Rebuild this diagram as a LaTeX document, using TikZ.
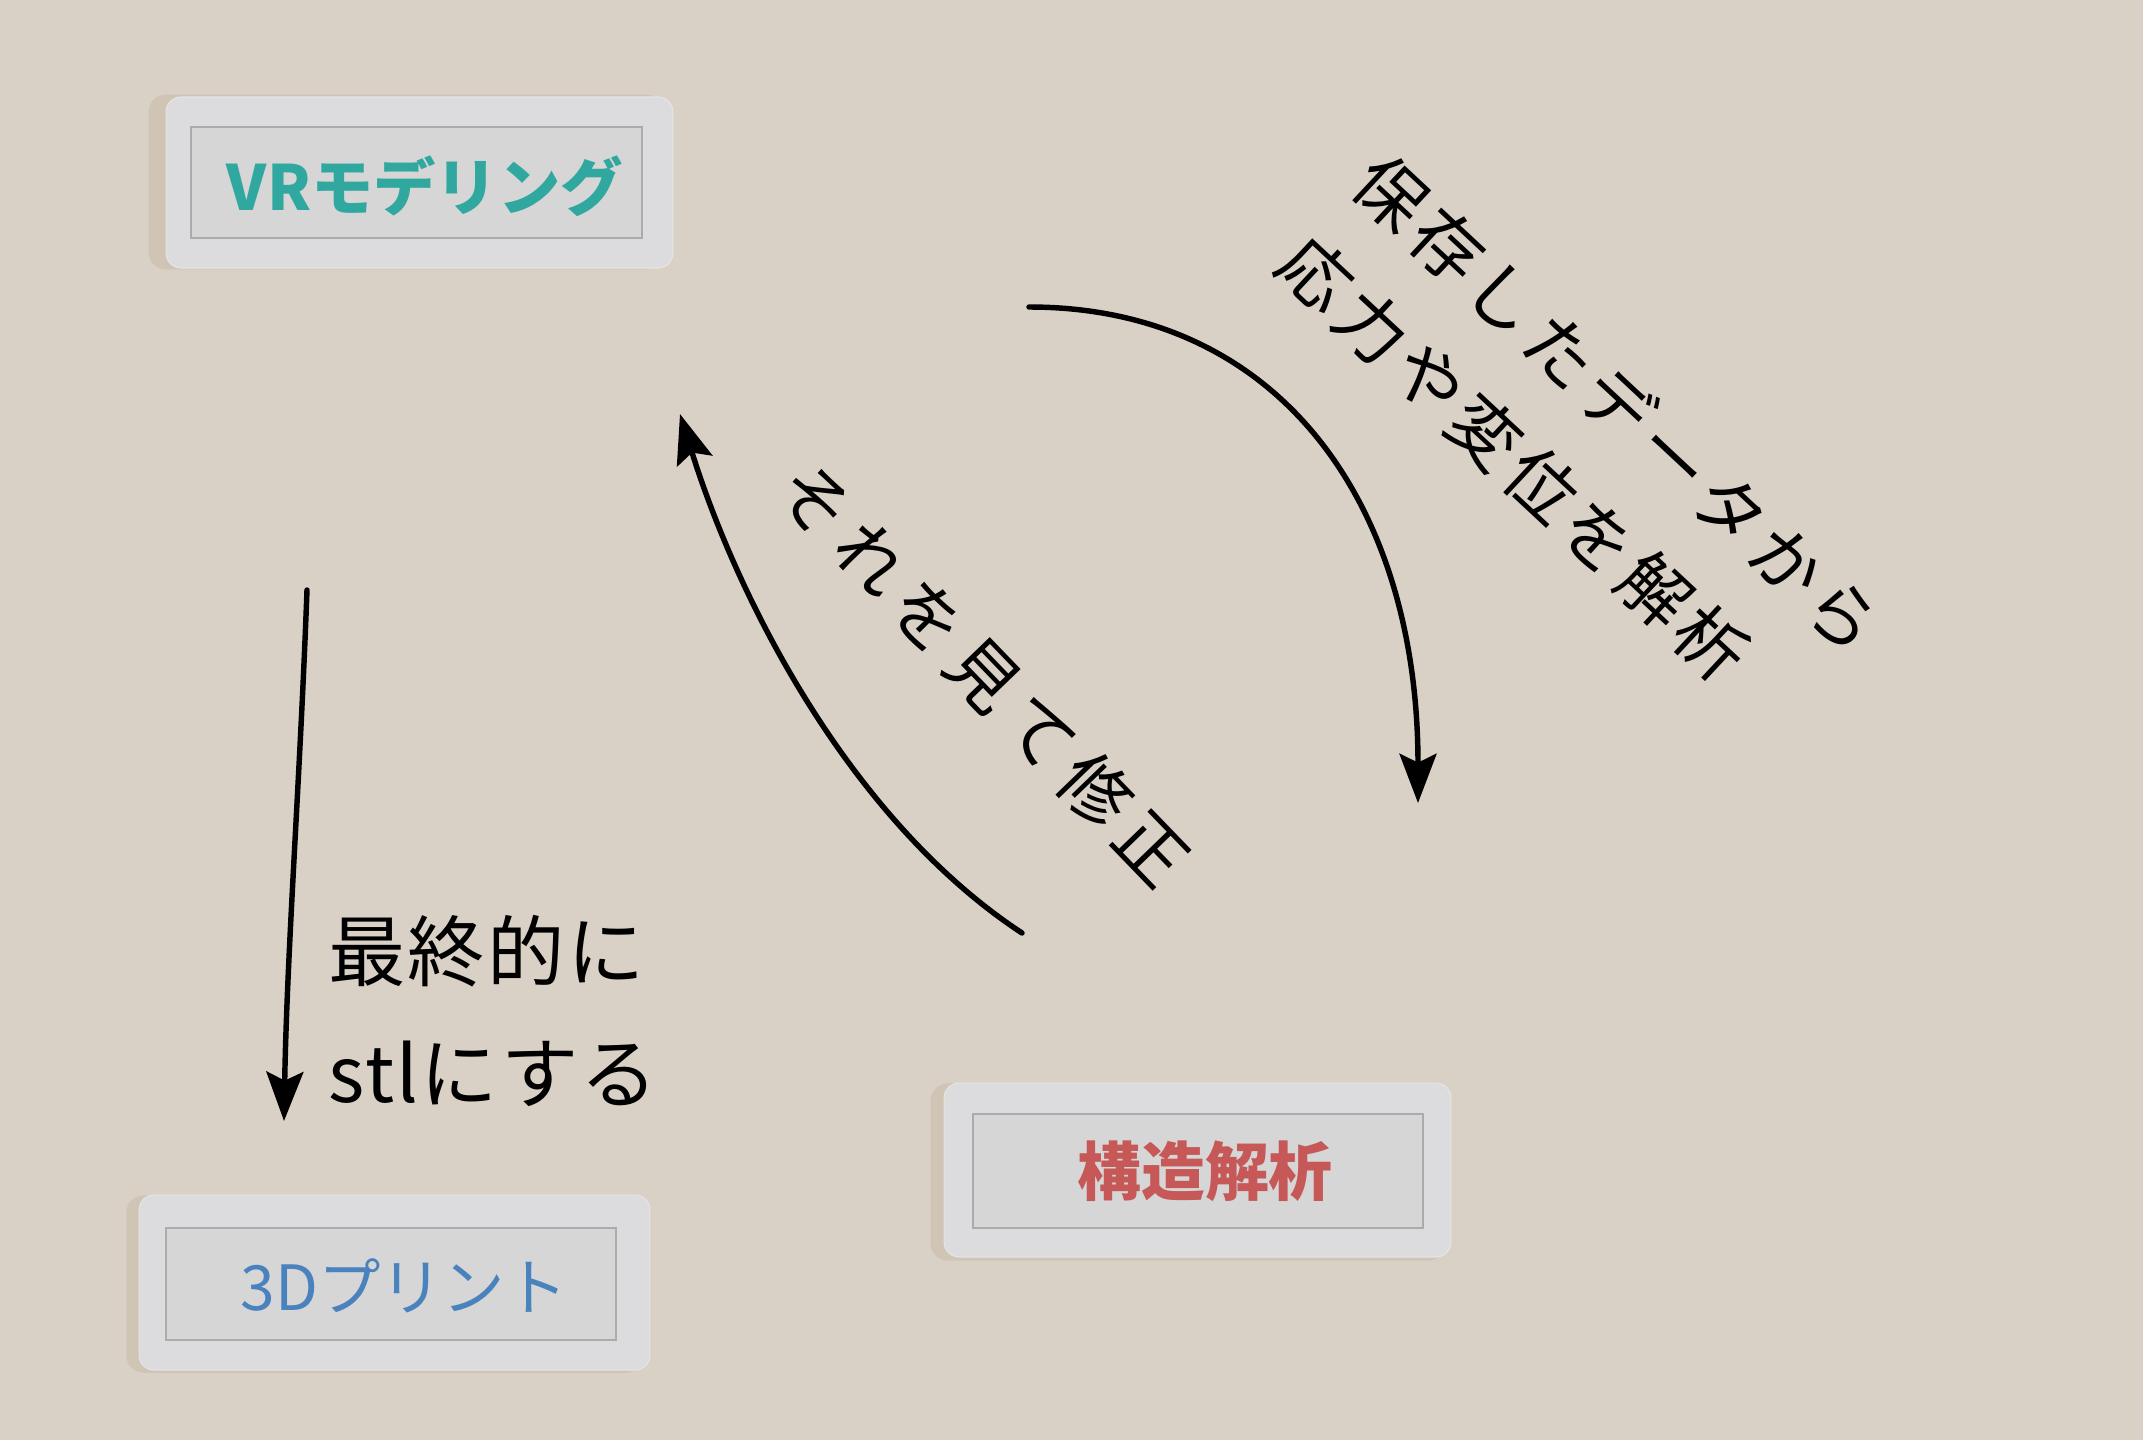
\documentclass[tikz,border=0pt]{standalone}
\usepackage{fontspec}
\newfontfamily\jp{Noto Sans CJK JP}
\newfontfamily\jph[LetterSpace=10]{Noto Sans CJK JP}
\newfontfamily\jpm[LetterSpace=15]{Noto Sans CJK JP}
\newfontfamily\jpl[LetterSpace=3]{Noto Sans CJK JP}
\usetikzlibrary{arrows.meta}
\definecolor{bg}{HTML}{D9D1C6}
\definecolor{shadowc}{HTML}{D0C4B5}
\definecolor{platec}{HTML}{DCDCDE}
\definecolor{panelc}{HTML}{D6D6D7}
\definecolor{panelb}{HTML}{ABABAB}
\definecolor{vrcol}{HTML}{31A89F}
\definecolor{pricol}{HTML}{4A82BE}
\definecolor{ancol}{HTML}{C65858}
\tikzset{
  plate/.style={fill=platec, draw=white!80!gray, line width=0.6pt, rounded corners=0.3cm, inner sep=0pt, outer sep=0pt},
  platesh/.style={fill=shadowc, rounded corners=0.35cm, inner sep=0pt, outer sep=0pt},
  panel/.style={fill=panelc, draw=panelb, line width=1.4pt, inner sep=0pt, outer sep=0pt},
  boxtext/.style={inner sep=0pt, font=\jp\bfseries},
  arr/.style={line width=3.1pt, line cap=round, -{Stealth[length=28pt,width=21pt,inset=5pt]}},
  hand/.style={inner sep=0pt, text=black}
}
\begin{document}
\begin{tikzpicture}[x=0.02cm,y=-0.02cm]
\useasboundingbox (0,0) rectangle (2143,1440);
\fill[bg] (0,0) rectangle (2143,1440);

% VR modeling box
\node[platesh, minimum width=10.3cm, minimum height=3.5cm] (vrs) at (406,182) {};
\node[plate, minimum width=10.14cm, minimum height=3.42cm] (vrp) at (419.5,182.5) {};
\node[panel, minimum width=9.02cm, minimum height=2.22cm] (vri) at (416.5,182.5) {};
\node[boxtext, text=vrcol, font=\jp\bfseries\fontsize{35.5}{38}\selectfont] (vrt) at (425,186) {VRモデリング};

% 3D print box
\node[platesh, minimum width=10.35cm, minimum height=3.55cm] (prs) at (385,1284) {};
\node[plate, minimum width=10.22cm, minimum height=3.5cm] (prp) at (394.5,1282.5) {};
\node[panel, minimum width=9.0cm, minimum height=2.24cm] (pri) at (391,1284) {};
\node[boxtext, text=pricol, font=\jp\fontsize{35.5}{38}\selectfont] (prt) at (404,1286) {3Dプリント};

% structural analysis box
\node[platesh, minimum width=10.3cm, minimum height=3.55cm] (ans) at (1188,1172) {};
\node[plate, minimum width=10.14cm, minimum height=3.48cm] (anp) at (1197.5,1170) {};
\node[panel, minimum width=9.0cm, minimum height=2.28cm] (ani) at (1198,1171) {};
\node[boxtext, text=ancol, font=\jp\bfseries\fontsize{36.4}{38}\selectfont] (ant) at (1205,1171) {構造解析};

% arrows
\coordinate (a1s) at (307,590);
\coordinate (a1e) at (284,1121);
\draw[arr] (a1s) .. controls (300,780) and (287,950) .. (a1e);
\coordinate (a2s) at (1029,307);
\coordinate (a2e) at (1418,803);
\draw[arr] (a2s) .. controls (1279,307) and (1418,503) .. (a2e);
\coordinate (a3s) at (1022,933);
\coordinate (a3e) at (680,414);
\draw[arr] (a3s) .. controls (850,820) and (738,600) .. (a3e);

% labels
\node[hand, rotate=-43, align=left, font=\jph\fontsize{40}{63}\selectfont] (l1) at (1580,444) {保存したデータから\\応力や変位を解析};
\node[hand, rotate=-46, font=\jpm\fontsize{40}{44}\selectfont] (l2) at (984,674) {それを見て修正};
\node[hand, anchor=west, align=left, font=\jpl\fontsize{44}{69}\selectfont] (l3) at (328,1011) {最終的に\\stlにする};
\end{tikzpicture}
\end{document}
